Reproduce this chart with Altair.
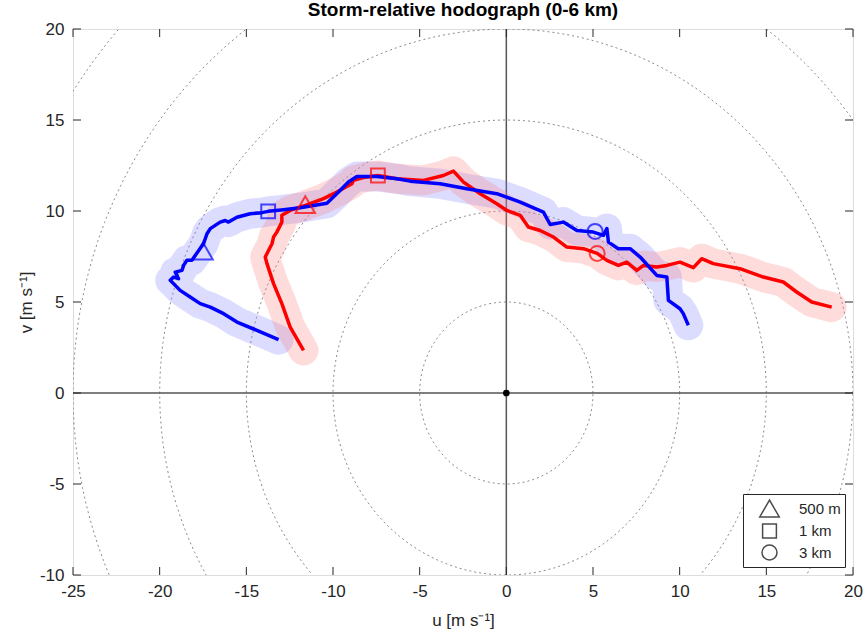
import altair as alt
import numpy as np
import pandas as pd

# ---- data ----
blue_u = [-13.14, -14.39, -15.54, -16.31, -17.08, -17.66, -18.24, -18.82, -19.20, -19.39,
          -19.20, -18.91, -19.10, -18.71, -18.62, -18.43, -18.14, -17.95, -17.47, -17.27,
          -17.08, -16.51, -16.22, -16.03, -15.54, -14.78, -14.10, -13.74, -12.85, -11.89,
          -10.35, -9.68, -9.11, -8.62, -7.47, -6.31, -5.55, -3.82, -2.28, -0.55,
          0.80, 2.14, 2.53, 3.29, 4.07, 5.02, 5.60, 5.80, 5.89, 6.46,
          7.14, 7.72, 8.68, 9.26, 9.35, 10.02, 10.21, 10.50]
blue_v = [2.93, 3.44, 3.90, 4.36, 4.72, 4.91, 5.27, 5.64, 6.01, 6.19,
          6.37, 6.28, 6.64, 6.74, 7.01, 7.29, 7.29, 7.56, 8.20, 8.75,
          9.03, 9.39, 9.48, 9.39, 9.66, 9.85, 9.91, 9.98, 10.07, 10.18,
          10.43, 11.04, 11.59, 11.90, 11.90, 11.77, 11.64, 11.50, 11.22, 10.95,
          10.49, 9.94, 9.26, 9.39, 8.93, 8.84, 8.66, 9.04, 8.29, 7.93,
          7.93, 7.47, 6.46, 6.37, 5.09, 4.63, 4.36, 3.72]

red_u = [-11.70, -12.47, -12.95, -13.43, -13.81, -13.91, -13.52, -13.43, -13.24, -12.95,
         -12.95, -12.47, -11.60, -10.55, -9.78, -8.91, -8.82, -8.14, -7.41, -6.31,
         -4.78, -3.63, -3.05, -2.47, -1.51, -0.55, 0.03, 0.80, 1.27, 1.95,
         2.72, 3.49, 4.45, 5.24, 5.80, 6.46, 6.95, 7.53, 7.91, 8.68,
         9.26, 10.02, 10.79, 11.27, 11.94, 13.48, 14.83, 15.98, 16.75, 17.62,
         18.77]
red_v = [2.34, 3.62, 4.91, 6.01, 7.11, 7.47, 8.20, 8.57, 8.84, 9.39,
         9.76, 10.03, 10.31, 10.68, 11.04, 11.50, 11.68, 11.86, 11.95, 11.77,
         11.68, 11.95, 12.19, 11.59, 10.95, 10.40, 10.03, 9.76, 9.12, 8.93,
         8.57, 8.02, 7.93, 7.67, 7.29, 7.01, 7.19, 6.74, 7.01, 6.92,
         7.01, 7.19, 6.89, 7.38, 7.11, 6.83, 6.37, 6.10, 5.55, 5.00,
         4.72]

levels = ["500 m", "1 km", "3 km"]
blue_mark_u = [-17.50, -13.74, 5.12]
blue_mark_v = [7.80, 9.98, 8.88]
red_mark_u = [-11.60, -7.41, 5.24]
red_mark_v = [10.35, 11.95, 7.67]

ring_radii = [5, 10, 15, 20, 25, 30]
x_ticks = [-25, -20, -15, -10, -5, 0, 5, 10, 15, 20]
y_ticks = [-10, -5, 0, 5, 10, 15, 20]

W, H = 780, 546
TXT = "#262626"
FONT = "Liberation Sans"

# ---- tables ----
blue_df = pd.DataFrame({"u": blue_u, "v": blue_v, "i": range(len(blue_u))})
red_df = pd.DataFrame({"u": red_u, "v": red_v, "i": range(len(red_u))})
bm_df = pd.DataFrame({"u": blue_mark_u, "v": blue_mark_v, "level": levels})
rm_df = pd.DataFrame({"u": red_mark_u, "v": red_mark_v, "level": levels})

ang = np.deg2rad(np.arange(0, 361, 2))
ring_rows = []
for r in ring_radii:
    for k, a in enumerate(ang):
        ring_rows.append({"r": r, "k": k, "u": r * np.cos(a), "v": r * np.sin(a)})
ring_df = pd.DataFrame(ring_rows)

xs = alt.Scale(domain=[-25, 20], nice=False, zero=False)
ys = alt.Scale(domain=[-10, 20], nice=False, zero=False)
common = dict(ticks=False, domain=False, grid=False, labelFontSize=17, labelFlush=False,
              labelExpr="'' + datum.value", titleFontSize=17, titleFontWeight="normal",
              labelColor=TXT, titleColor=TXT, labelFont=FONT, titleFont=FONT)
xax = alt.Axis(values=x_ticks, labelPadding=8, title="u [m s⁻¹]", titlePadding=13, **common)
yax = alt.Axis(values=y_ticks, labelPadding=9, title="v [m s⁻¹]", titlePadding=4, **common)


def X(f="u"):
    return alt.X(f"{f}:Q", scale=xs, axis=xax)


def Y(f="v"):
    return alt.Y(f"{f}:Q", scale=ys, axis=yax)


rings = alt.Chart(ring_df).mark_line(clip=True, color="#8a8a8a", strokeWidth=1,
                                     strokeDash=[2, 3]).encode(
    x=X(), y=Y(), detail="r:N", order="k:Q")

zero_df = pd.DataFrame({"u": [0], "v": [0]})
zx = alt.Chart(zero_df).mark_rule(color="#555555", strokeWidth=1.5).encode(x=X())
zy = alt.Chart(zero_df).mark_rule(color="#555555", strokeWidth=1.5).encode(y=Y())


def band(df, color):
    return alt.Chart(df).mark_line(color=color, strokeWidth=30, opacity=0.28,
                                   strokeCap="round", strokeJoin="round").encode(
        x=X(), y=Y(), order="i:Q")


def mean(df, color):
    return alt.Chart(df).mark_line(color=color, strokeWidth=3.5,
                                   strokeJoin="round").encode(
        x=X(), y=Y(), order="i:Q")


shape_scale = alt.Scale(domain=levels, range=["triangle-up", "square", "circle"])
size_scale = alt.Scale(type="ordinal", domain=levels, range=[380, 190, 225])
legend = alt.Legend(title=None, orient="bottom-right", offset=8,
                    strokeColor=TXT, fillColor="white", padding=4,
                    symbolStrokeColor="black", symbolFillColor="white",
                    symbolStrokeWidth=1.5, labelFontSize=15, labelFont=FONT,
                    labelColor=TXT, rowPadding=1, labelOffset=19, symbolOffset=12)


def marks(df, color):
    return alt.Chart(df).mark_point(filled=False, color=color, strokeWidth=2).encode(
        x=X(), y=Y(),
        shape=alt.Shape("level:N", scale=shape_scale, legend=legend),
        size=alt.Size("level:N", scale=size_scale, legend=legend))


origin = alt.Chart(zero_df).mark_point(filled=True, color="black", size=45, opacity=1).encode(
    x=X(), y=Y())

xt_df = pd.DataFrame({"u": x_ticks})
yt_df = pd.DataFrame({"v": y_ticks})
tk = dict(color=TXT, strokeWidth=1)
ticks = [
    alt.Chart(xt_df).mark_rule(**tk).encode(x=X(), y=alt.value(0), y2=alt.value(8)),
    alt.Chart(xt_df).mark_rule(**tk).encode(x=X(), y=alt.value(H), y2=alt.value(H - 8)),
    alt.Chart(yt_df).mark_rule(**tk).encode(y=Y(), x=alt.value(0), x2=alt.value(8)),
    alt.Chart(yt_df).mark_rule(**tk).encode(y=Y(), x=alt.value(W), x2=alt.value(W - 8)),
]

chart = alt.layer(
    rings, zx, zy,
    band(blue_df, "#8080ff"), band(red_df, "#ff8080"),
    origin,
    mean(red_df, "#ff0000"), mean(blue_df, "#0000ff"),
    marks(rm_df, "#ff0000"),
    marks(bm_df, "#0000ff"),
    *ticks,
).properties(
    width=W, height=H,
    title=alt.TitleParams("Storm-relative hodograph (0-6 km)", fontSize=19, font=FONT,
                          fontWeight="bold", color="black", offset=0),
    autosize=alt.AutoSizeParams(type="none"),
    padding={"left": 73, "top": 29, "right": 12, "bottom": 62},
).configure_view(stroke=TXT, strokeWidth=1).configure(background="white")

chart.save("out.html", embed_options={"renderer": "svg", "actions": False})
